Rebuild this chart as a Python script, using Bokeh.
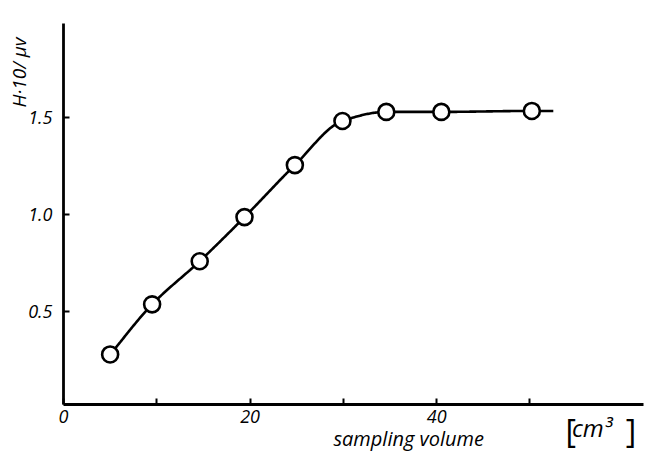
import numpy as np
from bokeh.plotting import figure
from bokeh.models import Label, FixedTicker
from bokeh.embed import file_html
from bokeh.resources import INLINE

# --- data ---
volume = [5.0, 9.5, 14.6, 19.4, 24.8, 29.9, 34.6, 40.5, 50.2]       # cm^3
signal = [0.277, 0.536, 0.759, 0.987, 1.256, 1.484, 1.531, 1.531, 1.536]  # H*10 / uV
curve_end_volume = 52.5   # where the drawn curve stops (plateau)

x_ticks = [0, 10, 20, 30, 40, 50]
x_tick_labels = {0: "0", 10: "", 20: "20", 30: "", 40: "40", 50: ""}
y_ticks = [0.5, 1.0, 1.5]
y_tick_labels = {0.5: "0.5", 1.0: "1.0", 1.5: "1.5"}

x_axis_extent = (0, 62.16)
y_axis_extent = (0.02, 1.99)

FONT = "Open Sans"


def pchip(x, y, xs):
    x = np.asarray(x, float); y = np.asarray(y, float)
    h = np.diff(x); d = np.diff(y) / h
    n = len(x); m = np.zeros(n)
    for k in range(1, n - 1):
        if d[k - 1] * d[k] > 0:
            w1 = 2 * h[k] + h[k - 1]; w2 = h[k] + 2 * h[k - 1]
            m[k] = (w1 + w2) / (w1 / d[k - 1] + w2 / d[k])
    m[0] = d[0]; m[-1] = 0.0
    out = np.empty_like(xs)
    for i, xv in enumerate(xs):
        k = min(max(np.searchsorted(x, xv) - 1, 0), n - 2)
        t = (xv - x[k]) / h[k]
        h00 = 2 * t**3 - 3 * t**2 + 1; h10 = t**3 - 2 * t**2 + t
        h01 = -2 * t**3 + 3 * t**2; h11 = t**3 - t**2
        out[i] = h00 * y[k] + h10 * h[k] * m[k] + h01 * y[k + 1] + h11 * h[k] * m[k + 1]
    return out


cx = list(volume) + [curve_end_volume]
cy = list(signal) + [signal[-1]]
xs = np.linspace(cx[0], cx[-1], 400)
ys = pchip(cx, cy, xs)

p = figure(width=646, height=454, x_range=(-6.752, 62.49), y_range=(-0.2404, 2.107),
           output_backend="svg", toolbar_location=None, min_border=0)
p.outline_line_color = None
p.xgrid.visible = False
p.ygrid.visible = False
p.background_fill_color = "white"
p.border_fill_color = "white"

p.line(xs, ys, line_color="black", line_width=2.6)
p.scatter(volume, signal, size=16, fill_color="white", line_color="black", line_width=2.6)

for ax in (p.xaxis[0], p.yaxis[0]):
    ax.axis_line_width = 2.8
    ax.axis_line_color = "black"
    ax.major_tick_line_width = 2
    ax.major_tick_in = 6
    ax.major_tick_out = 0
    ax.minor_tick_line_color = None
    ax.major_label_text_font = FONT
    ax.major_label_text_font_style = "italic"
    ax.major_label_text_font_size = "18px"
    ax.major_label_text_color = "black"

p.xaxis[0].fixed_location = y_axis_extent[0]
p.xaxis[0].bounds = x_axis_extent
p.xaxis[0].ticker = FixedTicker(ticks=x_ticks)
p.xaxis[0].major_label_overrides = x_tick_labels
p.xaxis[0].major_label_standoff = 6

p.yaxis[0].fixed_location = x_axis_extent[0]
p.yaxis[0].bounds = y_axis_extent
p.yaxis[0].ticker = FixedTicker(ticks=y_ticks)
p.yaxis[0].major_label_overrides = y_tick_labels
p.yaxis[0].major_label_standoff = 11

p.add_layout(Label(x=-4.72, y=1.554, text="H·10/ μv", angle=np.pi / 2,
                   text_align="left", text_baseline="middle",
                   text_font=FONT, text_font_style="italic", text_font_size="19px",
                   text_color="black"))
p.add_layout(Label(x=37.0, y=-0.16, text="sampling volume",
                   text_align="center", text_baseline="alphabetic",
                   text_font=FONT, text_font_style="italic", text_font_size="20px",
                   text_color="black"))
p.add_layout(Label(x=53.8, y=-0.005, text="[", text_align="left", text_baseline="top",
                   text_font=FONT, text_font_size="32px", text_color="black"))
p.add_layout(Label(x=54.5, y=-0.10, text="cm³", text_align="left", text_baseline="alphabetic",
                   text_font=FONT, text_font_style="italic", text_font_size="24px",
                   text_color="black"))
p.add_layout(Label(x=61.4, y=-0.005, text="]", text_align="right", text_baseline="top",
                   text_font=FONT, text_font_size="32px", text_color="black"))

open("out.html", "w").write(file_html(p, INLINE))
